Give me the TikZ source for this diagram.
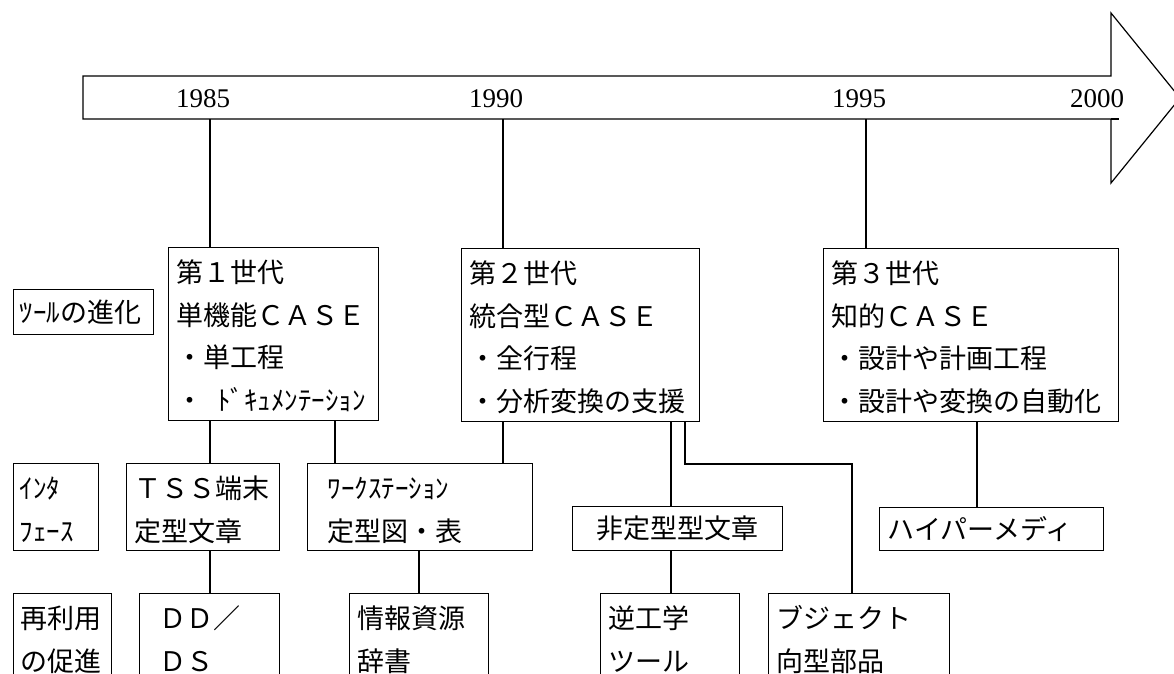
\documentclass[tikz,border=0pt]{standalone}
\usepackage{fontspec}
\setmainfont{Noto Sans CJK JP}
\newfontfamily\yrfont{Liberation Serif}
\begin{document}
\begin{tikzpicture}[x=1pt,y=-1pt,line width=1.2pt,
  box/.style={draw,anchor=north west,align=left,inner xsep=8pt,inner ysep=8pt,
    text height=27pt,font=\fontsize{27pt}{42.5pt}\selectfont},
  onebox/.style={draw,anchor=north west,inner xsep=8pt,inner ysep=8pt,
    text height=24pt,text depth=4pt,font=\fontsize{27pt}{42.5pt}\selectfont},
  year/.style={font=\yrfont\fontsize{27pt}{30pt}\selectfont,inner sep=0pt},
  link/.style={line width=1.2pt}]
\useasboundingbox (0,0) rectangle (1174,673);
\clip (0,0) rectangle (1174,673);

% time arrow
\draw[line join=miter] (83,76) -- (1111,76) -- (1111,13) -- (1180,98) -- (1111,183) -- (1111,119) -- (83,119) -- cycle;
\draw (1111,119) -- (1119,119);
\coordinate (t85) at (210,119);
\coordinate (t90) at (503,119);
\coordinate (t95) at (866,119);
\node[year] (y85) at (203,99) {1985};
\node[year] (y90) at (496,99) {1990};
\node[year] (y95) at (859,99) {1995};
\node[year] (y00) at (1097,99) {2000};

% row labels
\node[onebox,inner xsep=6pt,text width=128pt,text height=24.5pt,text depth=4.5pt] (L1) at (13,289) {ﾂｰﾙの進化};
\node[box,inner xsep=6pt,text width=73pt,text depth=44pt] (L2) at (13,463) {ｲﾝﾀ\\ﾌｪｰｽ};
\node[box,inner xsep=7pt,text width=84pt,text depth=67pt] (L3) at (13,593) {再利用\\の促進};

% generations
\node[box,text width=194pt,text depth=130pt] (g1) at (168,247)
  {第１世代\\単機能ＣＡＳＥ\\・単工程\\・\hspace{13.5pt}ﾄﾞｷｭﾒﾝﾃｰｼｮﾝ};
\node[box,text width=222pt,text depth=130pt] (g2) at (461,248)
  {第２世代\\統合型ＣＡＳＥ\\・全行程\\・分析変換の支援};
\node[box,text width=279pt,text depth=130pt] (g3) at (823,248)
  {第３世代\\知的ＣＡＳＥ\\・設計や計画工程\\・設計や変換の自動化};

% interfaces
\node[box,text width=137pt,text depth=44pt] (tss) at (126,463) {ＴＳＳ端末\\定型文章};
\node[box,inner xsep=20pt,text width=185pt,text depth=44pt] (ws) at (307,463) {ﾜｰｸｽﾃｰｼｮﾝ\\定型図・表};
\node[onebox,align=center,text width=194pt] (hi) at (572,506) {非定型型文章};
\node[onebox,align=left,text width=208pt,text depth=3pt] (hm) at (879,507) {ハイパーメディ};

% reuse
\node[box,inner xsep=20pt,text width=100pt,text depth=67pt] (dd) at (139,593) {ＤＤ／\\ＤＳ};
\node[box,text width=123pt,text depth=67pt] (info) at (349,593) {情報資源\\辞書};
\node[box,text width=123pt,text depth=67pt] (rev) at (600,593) {逆工学\\ツール};
\node[box,text width=165pt,text depth=67pt] (obj) at (768,593) {ブジェクト\\向型部品};

% connectors
\draw[link] (t85) -- (t85 |- g1.north);
\draw[link] (t90) -- (t90 |- g2.north);
\draw[link] (t95) -- (t95 |- g3.north);
\draw[link] (t85 |- g1.south) -- (t85 |- tss.north);
\draw[link] (t85 |- tss.south) -- (t85 |- dd.north);
\draw[link] ([xshift=28pt]ws.north west) -- ([xshift=28pt]ws.north west |- g1.south);
\draw[link] (t90 |- g2.south) -- (t90 |- ws.north);
\draw[link] ([xshift=70pt]info.north west) -- ([xshift=70pt]info.north west |- ws.south);
\draw[link] ([xshift=99pt]hi.north west) -- ([xshift=99pt]hi.north west |- g2.south);
\draw[link] ([xshift=71pt]rev.north west) -- ([xshift=71pt]rev.north west |- hi.south);
\coordinate (bend) at (685,464);
\draw[link] (bend |- g2.south) -- (bend) -| ([xshift=84pt]obj.north west);
\draw[link] ([xshift=98pt]hm.north west) -- ([xshift=98pt]hm.north west |- g3.south);
\end{tikzpicture}
\end{document}
